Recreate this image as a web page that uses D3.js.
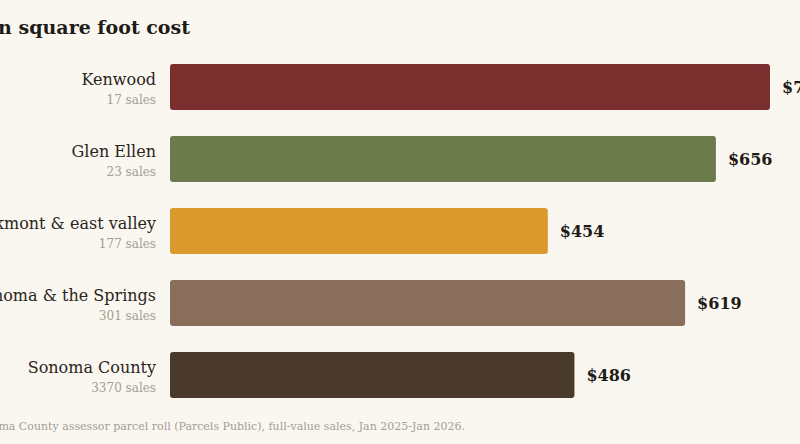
<!DOCTYPE html>
<html>
<head>
<meta charset="utf-8">
<script src="https://cdn.jsdelivr.net/npm/d3@7"></script>
<style>
  html, body { margin: 0; padding: 0; background: #faf7f0; overflow: hidden; }
  svg { display: block; font-family: "DejaVu Serif", serif; }
</style>
</head>
<body>
<svg id="chart" width="800" height="444"></svg>
<script>
// data
const areas = ["Kenwood", "Glen Ellen", "Rockmont & east valley", "Sonoma & the Springs", "Sonoma County"];
const costPerSqFt = [721, 656, 454, 619, 486];
const salesCount = [17, 23, 177, 301, 3370];
const barColors = ["#7a2e2e", "#6b7b4b", "#d9992c", "#8a6e5c", "#4a3a2b"];

const rows = areas.map((a, i) => ({ area: a, cost: costPerSqFt[i], sales: salesCount[i], color: barColors[i] }));

let svg = d3.select("#chart");

let x = d3.scaleLinear()
  .domain([0, d3.max(costPerSqFt)])
  .range([170, 770]);

let y = d3.scaleBand()
  .domain(areas)
  .range([38, 424])
  .padding(26 / 72);

// title (starts off the left edge in the reference)
svg.append("text")
  .attr("x", 190)
  .attr("y", 34)
  .attr("text-anchor", "end")
  .style("font-size", "19px")
  .style("font-weight", "bold")
  .style("fill", "#1f1b16")
  .text("Median square foot cost");

let g = svg.selectAll("g.row")
  .data(rows)
  .enter()
  .append("g")
  .attr("class", "row");

g.append("rect")
  .attr("x", x(0))
  .attr("y", d => y(d.area))
  .attr("width", d => x(d.cost) - x(0))
  .attr("height", y.bandwidth())
  .attr("rx", 3)
  .attr("fill", d => d.color);

g.append("text")
  .attr("x", 156)
  .attr("y", d => y(d.area) + 21)
  .attr("text-anchor", "end")
  .style("font-size", "16px")
  .style("fill", "#2a2520")
  .text(d => d.area);

g.append("text")
  .attr("x", 156)
  .attr("y", d => y(d.area) + 40)
  .attr("text-anchor", "end")
  .style("font-size", "12px")
  .style("fill", "#a39d94")
  .text(d => d.sales + " sales");

g.append("text")
  .attr("x", d => x(d.cost) + 12)
  .attr("y", d => y(d.area) + y.bandwidth() / 2 + 6)
  .style("font-size", "16px")
  .style("font-weight", "bold")
  .style("fill", "#1f1b16")
  .text(d => "$" + d.cost);

// source note
svg.append("text")
  .attr("x", 465)
  .attr("y", 430)
  .attr("text-anchor", "end")
  .style("font-size", "11px")
  .style("fill", "#a39d94")
  .text("Source: Sonoma County assessor parcel roll (Parcels Public), full-value sales, Jan 2025-Jan 2026.");
</script>
</body>
</html>
